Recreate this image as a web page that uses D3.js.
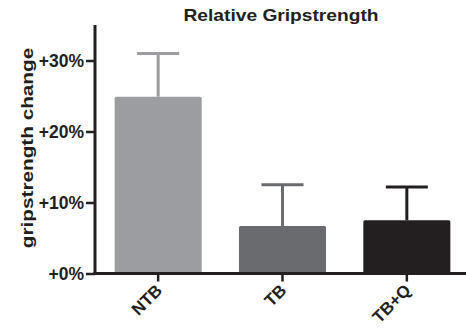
<!DOCTYPE html>
<html><head><meta charset="utf-8">
<script src="https://cdn.jsdelivr.net/npm/d3@7"></script>
<style>body{margin:0;background:#fff}svg{display:block}text{font-family:"Liberation Sans",Arial,sans-serif;font-weight:bold;fill:#231f20}</style>
</head><body><svg id="c" width="466" height="332"></svg>
<script>
const categories = ["NTB", "TB", "TB+Q"];
const means = [24.9, 6.7, 7.5];
const errors = [6.1, 5.8, 4.7];
const colors = ["#9c9da0", "#6a6b6e", "#231f20"];
const yTicks = [0, 10, 20, 30];
const title = "Relative Gripstrength";
const yLabel = "gripstrength change";

const svg = d3.select("#c");
const x0 = 95, x1 = 468, yTop = 25, yBase = 273.5;
const y = d3.scaleLinear().domain([0, 35]).range([yBase, yBase - 35 * 7.1]);
const x = d3.scaleBand().domain(categories).range([x0 + 1, x1 + 1]).paddingInner(0.3).paddingOuter(0.15);

// bars
svg.selectAll("rect.bar").data(categories).join("rect")
  .attr("x", d => x(d)).attr("width", x.bandwidth())
  .attr("y", (d, i) => y(means[i])).attr("height", (d, i) => y(0) - y(means[i]))
  .attr("rx", 1.5).attr("fill", (d, i) => colors[i]);

// error bars
const eb = svg.selectAll("g.eb").data(categories).join("g");
eb.append("line")
  .attr("x1", d => x(d) + x.bandwidth() / 2).attr("x2", d => x(d) + x.bandwidth() / 2)
  .attr("y1", (d, i) => y(means[i])).attr("y2", (d, i) => y(means[i] + errors[i]))
  .attr("stroke", (d, i) => colors[i]).attr("stroke-width", 3);
eb.append("line")
  .attr("x1", d => x(d) + x.bandwidth() / 2 - 21).attr("x2", d => x(d) + x.bandwidth() / 2 + 21)
  .attr("y1", (d, i) => y(means[i] + errors[i])).attr("y2", (d, i) => y(means[i] + errors[i]))
  .attr("stroke", (d, i) => colors[i]).attr("stroke-width", 3);

// y axis
const yAxis = svg.append("g").attr("transform", `translate(${x0},0)`)
  .call(d3.axisLeft(y).tickValues(yTicks).tickFormat(d => "+" + d + "%").tickSize(9).tickPadding(2).tickSizeOuter(0));
yAxis.select(".domain").remove();
yAxis.append("line").attr("x1", 0).attr("x2", 0).attr("y1", yTop).attr("y2", yBase + 1.5).attr("stroke", "#231f20").attr("stroke-width", 3);
yAxis.selectAll(".tick line").attr("stroke", "#231f20").attr("stroke-width", 2.5);
yAxis.selectAll(".tick text").attr("font-size", 17.5).attr("fill", "#231f20").attr("font-family", "Liberation Sans, Arial, sans-serif").attr("font-weight", "bold");

// x axis
const xAxis = svg.append("g").attr("transform", `translate(0,${yBase})`)
  .call(d3.axisBottom(x).tickSize(8).tickSizeOuter(0));
xAxis.select(".domain").remove();
xAxis.append("line").attr("x1", x0 - 1.5).attr("x2", 466).attr("y1", 0).attr("y2", 0).attr("stroke", "#231f20").attr("stroke-width", 3);
xAxis.selectAll(".tick line").attr("stroke", "#231f20").attr("stroke-width", 2.5);
xAxis.selectAll(".tick text").attr("font-size", 17).attr("fill", "#231f20")
  .attr("font-family", "Liberation Sans, Arial, sans-serif").attr("font-weight", "bold")
  .attr("text-anchor", "end").attr("dy", null).attr("y", 0)
  .attr("transform", "translate(5,18) rotate(-45)");

// title
svg.append("text").attr("transform", "translate(281,21) scale(1.2,1)").attr("text-anchor", "middle").attr("font-size", 16).text(title);
// y label
svg.append("text").attr("transform", "translate(33,148) rotate(-90) scale(1.22,1)").attr("text-anchor", "middle").attr("font-size", 17).text(yLabel);
</script></body></html>
